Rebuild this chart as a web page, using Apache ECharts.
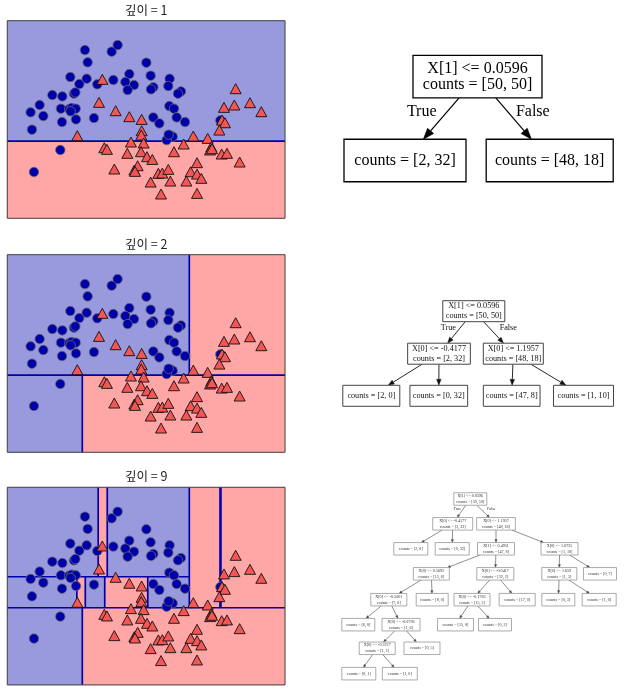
<!DOCTYPE html>
<html><head><meta charset="utf-8">
<script src="https://cdn.jsdelivr.net/npm/echarts@6/dist/echarts.min.js"></script>
<style>html,body{margin:0;padding:0;background:#fff}#c{width:625px;height:693px}</style>
</head><body><div id="c"></div><script>
// ---- data ----
const X_RANGE = [-1.549, 2.639];
const Y_RANGE = [-1.024, 1.751];
const depthTitles = ['깊이 = 1', '깊이 = 2', '깊이 = 9'];
const branchLabels = ['True', 'False'];

const blueX = [-0.378,0.025,0.115,-0.337,0.548,-0.599,-0.463,-0.352,-0.192,0.050,
  0.291,0.231,0.362,0.266,0.613,0.899,0.879,0.653,0.618,1.070,
  1.025,-0.870,-0.719,-0.543,-0.523,-1.061,-0.740,-0.614,-0.579,-0.518,
  0.894,0.965,-1.197,-1.006,-0.724,-1.177,-0.513,-0.594,-0.242,0.653,
  0.744,1.005,1.131,0.915,0.945,0.854,0.884,1.664,-0.750,-1.147];
const blueY = [1.339,1.316,1.409,1.166,1.161,0.960,0.861,0.936,0.857,0.918,
  1.002,0.890,0.847,0.777,0.979,0.936,0.833,0.815,0.787,0.758,
  0.726,0.707,0.688,0.726,0.744,0.567,0.515,0.510,0.524,0.515,
  0.552,0.515,0.464,0.412,0.328,0.220,0.365,0.478,0.384,0.393,
  0.309,0.393,0.328,0.136,0.122,0.075,0.150,0.351,-0.065,-0.374];
const redX = [-0.116,-0.166,0.085,0.291,0.477,0.477,0.472,-0.493,1.895,1.719,
  1.875,2.111,2.282,1.689,1.734,1.649,1.256,1.473,0.316,0.507,
  1.111,1.528,1.508,-0.086,-0.046,0.261,0.467,0.558,0.638,0.965,
  1.684,1.764,1.955,1.312,0.065,0.367,0.417,0.377,0.729,0.789,
  0.879,1.216,1.312,1.377,0.613,0.910,1.151,0.769,1.312,1.538];
const redY = [0.927,0.604,0.487,0.403,0.365,0.206,0.145,0.136,0.796,0.534,
  0.567,0.599,0.473,0.356,0.318,0.215,0.131,0.098,0.047,0.033,
  0.019,-0.019,-0.065,-0.033,-0.056,-0.112,-0.089,-0.159,-0.197,-0.089,
  -0.122,-0.112,-0.234,-0.243,-0.332,-0.346,-0.286,-0.365,-0.393,-0.389,
  -0.337,-0.370,-0.403,-0.463,-0.515,-0.501,-0.501,-0.683,-0.674,-0.047];

// trees: [parent, feature(-1 = leaf), threshold, countClass0, countClass1]; first child = True branch
const tree1 = [
  [-1, 1, 0.0596, 50, 50],
  [0, -1, null, 2, 32],
  [0, -1, null, 48, 18]
];
const tree2 = [
  [-1, 1, 0.0596, 50, 50],
  [0, 0, -0.4177, 2, 32],
  [0, 0, 1.1957, 48, 18],
  [1, -1, null, 2, 0],
  [1, -1, null, 0, 32],
  [2, -1, null, 47, 8],
  [2, -1, null, 1, 10]
];
const tree9 = [
  [-1, 1, 0.0596, 50, 50],
  [0, 0, -0.4177, 2, 32],
  [0, 0, 1.1957, 48, 18],
  [1, -1, null, 2, 0],
  [1, -1, null, 0, 32],
  [2, 1, 0.4951, 47, 8],
  [2, 0, 1.6725, 1, 10],
  [5, 0, 0.5692, 15, 6],
  [5, 0, -0.0417, 32, 2],
  [6, 0, 1.659, 1, 3],
  [6, -1, null, 0, 7],
  [7, 0, -0.5001, 7, 6],
  [7, -1, null, 8, 0],
  [8, 0, -0.1783, 15, 2],
  [8, -1, null, 17, 0],
  [9, -1, null, 0, 3],
  [9, -1, null, 1, 0],
  [11, -1, null, 6, 0],
  [11, 0, -0.0796, 1, 6],
  [13, -1, null, 15, 0],
  [13, -1, null, 0, 2],
  [18, 0, -0.3727, 1, 1],
  [18, -1, null, 0, 5],
  [21, -1, null, 0, 1],
  [21, -1, null, 1, 0]
];

// ---- diagram layout (page pixels): [centerX, centerY, boxWidth] ----
const tree1Layout = [[477.5,76.7,129],[405,160.5,122],[549.7,160.5,127]];
const tree2Layout = [[473.8,311.2,62],[439,353.7,62.7],[513.3,353.7,60],
  [371.3,395.8,57],[438.8,395.8,57.7],[511.7,395.8,56.7],[583.5,395.8,60]];
const tree9Layout = [[470.3,499,33],[452.7,523.8,40],[496,523.8,38.7],
  [410.8,548.8,34],[452.2,548.8,34],[496,548.8,37],[559.5,548.8,37],
  [431.3,573.8,36],[495.3,573.8,37],[559.3,573.8,35],[600,573.8,33],
  [388.8,599.7,36],[432.2,599.7,32],[472,599.7,36],[517.2,599.7,36],[558.3,599.7,33],[599.2,599.7,34],
  [358.3,624.7,33],[401,624.7,38],[455.5,624.7,36],[495,624.7,33],
  [377.2,648.3,36],[422,648.3,36],
  [358.8,673.7,34],[399.8,673.7,35]];
const branchPos = [[[421.7,112],[532.8,112]],[[448.3,327.8],[508.3,328]],[[457.2,509.3],[491.3,509.3]]];

const trees = [tree1, tree2, tree9];
const layouts = [tree1Layout, tree2Layout, tree9Layout];
const treeStyle = [
  {h:42.5, font:16, lh:16, stroke:'#000', lw:1.3, text:'#000', edge:'#000', elw:1.2, al:11, aw:8},
  {h:21, font:8.2, lh:10, stroke:'#444', lw:1, text:'#111', edge:'#111', elw:0.9, al:6, aw:4.5},
  {h:12.5, font:4.1, lh:5.8, stroke:'#888', lw:0.7, text:'#333', edge:'#444', elw:0.6, al:3, aw:2.4}
];
const plotTops = [20.7, 254.7, 487.3];
const PLOT_LEFT = 7.3, PLOT_W = 277.7, PLOT_H = 197.6;
const BLUE_FILL = '#9999dd', RED_FILL = '#ffa6a6';

function childrenOf(tree, i) { const r = []; tree.forEach((n, j) => { if (n[0] === i) r.push(j); }); return r; }

function partition(tree) {
  const regions = [], splits = [];
  function rec(i, b) {
    const n = tree[i], kids = childrenOf(tree, i);
    if (n[1] < 0) { regions.push([b[0], b[1], b[2], b[3], n[3] >= n[4] ? 0 : 1]); return; }
    const t = n[2];
    if (n[1] === 0) {
      splits.push([t, b[2], t, b[3]]);
      rec(kids[0], [b[0], t, b[2], b[3]]); rec(kids[1], [t, b[1], b[2], b[3]]);
    } else {
      splits.push([b[0], t, b[1], t]);
      rec(kids[0], [b[0], b[1], b[2], t]); rec(kids[1], [b[0], b[1], t, b[3]]);
    }
  }
  rec(0, [X_RANGE[0], X_RANGE[1], Y_RANGE[0], Y_RANGE[1]]);
  return { regions, splits };
}

function edgesOf(k) {
  const tree = trees[k], lay = layouts[k], h = treeStyle[k].h, out = [];
  tree.forEach((n, i) => {
    if (n[0] < 0) return;
    const P = lay[n[0]], C = lay[i];
    const dx = C[0] - P[0], dy = C[1] - P[1];
    const tOut = Math.min(Math.abs(dx) > 1e-6 ? (P[2] / 2) / Math.abs(dx) : 1e9, (h / 2) / Math.abs(dy));
    const tIn = 1 - Math.min(Math.abs(dx) > 1e-6 ? (C[2] / 2) / Math.abs(dx) : 1e9, (h / 2) / Math.abs(dy));
    out.push([P[0] + dx * tOut, P[1] + dy * tOut, P[0] + dx * tIn, P[1] + dy * tIn]);
  });
  return out;
}

const grid = [], xAxis = [], yAxis = [], series = [], title = [];
for (let g = 0; g < 3; g++) {
  grid.push({ left: PLOT_LEFT, top: plotTops[g], width: PLOT_W, height: PLOT_H });
  xAxis.push({ gridIndex: g, type: 'value', min: X_RANGE[0], max: X_RANGE[1], show: false });
  yAxis.push({ gridIndex: g, type: 'value', min: Y_RANGE[0], max: Y_RANGE[1], show: false });
  title.push({ text: depthTitles[g], left: PLOT_LEFT + PLOT_W / 2, top: plotTops[g] - 17, textAlign: 'center', padding: 0,
    textStyle: { fontSize: 12.5, fontWeight: 'normal', fontFamily: 'Noto Sans CJK KR', color: '#222' } });
  const part = partition(trees[g]);
  series.push({
    type: 'custom', xAxisIndex: g, yAxisIndex: g, z: 1, silent: true, data: part.regions,
    renderItem(params, api) {
      const a = api.coord([api.value(0), api.value(3)]), b = api.coord([api.value(1), api.value(2)]);
      const col = api.value(4) === 0 ? BLUE_FILL : RED_FILL;
      return { type: 'rect', shape: { x: a[0], y: a[1], width: b[0] - a[0], height: b[1] - a[1] },
        style: { fill: col, stroke: col, lineWidth: 0.5 } };
    }
  });
  series.push({
    type: 'custom', xAxisIndex: g, yAxisIndex: g, z: 2, silent: true, data: part.splits,
    renderItem(params, api) {
      const a = api.coord([api.value(0), api.value(1)]), b = api.coord([api.value(2), api.value(3)]);
      return { type: 'line', shape: { x1: a[0], y1: a[1], x2: b[0], y2: b[1] }, style: { stroke: '#0000aa', lineWidth: 1.7 } };
    }
  });
  series.push({
    type: 'scatter', xAxisIndex: g, yAxisIndex: g, z: 3, symbol: 'circle', symbolSize: 9.5,
    data: blueX.map((x, i) => [x, blueY[i]]),
    itemStyle: { color: '#0000aa', borderColor: '#6a6a6a', borderWidth: 0.8, opacity: 1 }
  });
  series.push({
    type: 'scatter', xAxisIndex: g, yAxisIndex: g, z: 3, symbol: 'triangle', symbolSize: [11, 10],
    data: redX.map((x, i) => [x, redY[i]]),
    itemStyle: { color: '#f45656', borderColor: '#111', borderWidth: 0.9, opacity: 1 }
  });
  series.push({
    type: 'custom', xAxisIndex: g, yAxisIndex: g, z: 4, silent: true, data: [[X_RANGE[0], Y_RANGE[0], X_RANGE[1], Y_RANGE[1]]],
    renderItem(params, api) {
      const a = api.coord([api.value(0), api.value(3)]), b = api.coord([api.value(2), api.value(1)]);
      return { type: 'rect', shape: { x: a[0], y: a[1], width: b[0] - a[0], height: b[1] - a[1] },
        style: { fill: 'none', stroke: '#444', lineWidth: 1 } };
    }
  });
}

// full-page coordinate system for the tree diagrams
grid.push({ left: 0, top: 0, width: 625, height: 693 });
xAxis.push({ gridIndex: 3, type: 'value', min: 0, max: 625, show: false });
yAxis.push({ gridIndex: 3, type: 'value', min: 0, max: 693, inverse: true, show: false });

for (let k = 0; k < 3; k++) {
  const st = treeStyle[k], tree = trees[k];
  series.push({
    type: 'custom', xAxisIndex: 3, yAxisIndex: 3, z: 5, silent: true, data: edgesOf(k),
    renderItem(params, api) {
      const a = api.coord([api.value(0), api.value(1)]), b = api.coord([api.value(2), api.value(3)]);
      const dx = b[0] - a[0], dy = b[1] - a[1], L = Math.hypot(dx, dy), ux = dx / L, uy = dy / L;
      const bx = b[0] - ux * st.al, by = b[1] - uy * st.al;
      return { type: 'group', children: [
        { type: 'line', shape: { x1: a[0], y1: a[1], x2: bx, y2: by }, style: { stroke: st.edge, lineWidth: st.elw } },
        { type: 'polygon', shape: { points: [[b[0], b[1]], [bx - uy * st.aw / 2, by + ux * st.aw / 2], [bx + uy * st.aw / 2, by - ux * st.aw / 2]] },
          style: { fill: st.edge, stroke: st.edge, lineWidth: st.elw * 0.5 } }
      ] };
    }
  });
  series.push({
    type: 'custom', xAxisIndex: 3, yAxisIndex: 3, z: 6, silent: true, data: layouts[k],
    renderItem(params, api) {
      const c = api.coord([api.value(0), api.value(1)]);
      const s = api.size([api.value(2), st.h]);
      const w = Math.abs(s[0]), h = Math.abs(s[1]);
      const n = tree[params.dataIndex];
      const txt = n[1] < 0 ? `counts = [${n[3]}, ${n[4]}]` : `X[${n[1]}] <= ${n[2]}\ncounts = [${n[3]}, ${n[4]}]`;
      return { type: 'group', children: [
        { type: 'rect', shape: { x: c[0] - w / 2, y: c[1] - h / 2, width: w, height: h }, style: { fill: '#fff', stroke: st.stroke, lineWidth: st.lw } },
        { type: 'text', style: { text: txt, x: c[0], y: c[1], align: 'center', verticalAlign: 'middle', fontSize: st.font, lineHeight: st.lh, fontFamily: 'Liberation Serif', fill: st.text } }
      ] };
    }
  });
  series.push({
    type: 'custom', xAxisIndex: 3, yAxisIndex: 3, z: 6, silent: true, data: branchPos[k],
    renderItem(params, api) {
      const c = api.coord([api.value(0), api.value(1)]);
      return { type: 'text', style: { text: branchLabels[params.dataIndex], x: c[0], y: c[1], align: 'center', verticalAlign: 'middle',
        fontSize: st.font, fontFamily: 'Liberation Serif', fill: st.text } };
    }
  });
}

const chart = echarts.init(document.getElementById('c'));
chart.setOption({ animation: false, title, grid, xAxis, yAxis, series });
</script></body></html>
